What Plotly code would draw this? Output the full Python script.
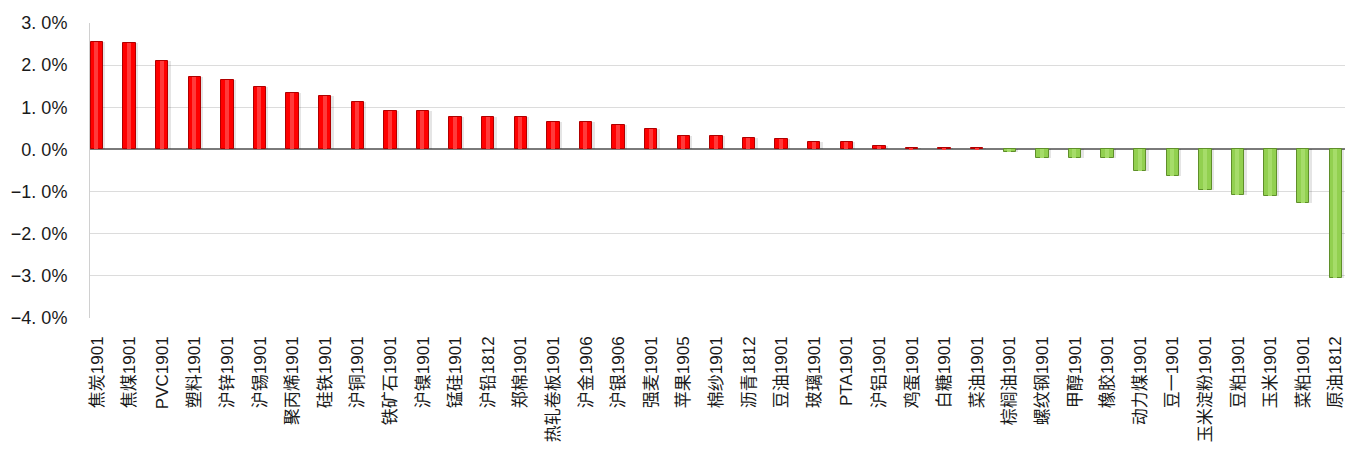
import plotly.graph_objects as go

categories = ["焦炭1901", "焦煤1901", "PVC1901", "塑料1901", "沪锌1901", "沪锡1901", "聚丙烯1901",
              "硅铁1901", "沪铜1901", "铁矿石1901", "沪镍1901", "锰硅1901", "沪铅1812", "郑棉1901",
              "热轧卷板1901", "沪金1906", "沪银1906", "强麦1901", "苹果1905", "棉纱1901", "沥青1812",
              "豆油1901", "玻璃1901", "PTA1901", "沪铝1901", "鸡蛋1901", "白糖1901", "菜油1901",
              "棕榈油1901", "螺纹钢1901", "甲醇1901", "橡胶1901", "动力煤1901", "豆一1901",
              "玉米淀粉1901", "豆粕1901", "玉米1901", "菜粕1901", "原油1812"]
values = [2.54, 2.52, 2.10, 1.72, 1.65, 1.48, 1.33, 1.26, 1.13, 0.92, 0.91, 0.78, 0.78, 0.77,
          0.64, 0.64, 0.59, 0.49, 0.31, 0.31, 0.26, 0.24, 0.18, 0.18, 0.09, 0.04, 0.03, 0.03,
          -0.05, -0.20, -0.20, -0.21, -0.51, -0.63, -0.96, -1.07, -1.11, -1.26, -3.06]
y_ticks = [3, 2, 1, 0, -1, -2, -3, -4]
y_tick_text = ["3. 0%", "2. 0%", "1. 0%", "0. 0%", "−1. 0%", "−2. 0%", "−3. 0%", "−4. 0%"]

x = list(range(len(categories)))
fill = ["#ff0000" if v >= 0 else "#92d050" for v in values]
edge = ["#b00000" if v >= 0 else "#5f8f2a" for v in values]
shine = ["#ff3a3a" if v >= 0 else "#a6dc6a" for v in values]

fig = go.Figure()
# soft shadow behind bars
fig.add_trace(go.Bar(
    x=x, y=values, width=0.46, offset=-0.2,
    marker=dict(color="rgba(0,0,0,0.10)", line=dict(width=0)),
    showlegend=False, hoverinfo="skip",
))
fig.add_trace(go.Bar(
    x=x, y=values, width=0.38, offset=-0.19,
    marker=dict(color=fill, line=dict(color=edge, width=1)),
    showlegend=False,
))
# light centre strip for a rounded look
fig.add_trace(go.Bar(
    x=x, y=values, width=0.12, offset=-0.08,
    marker=dict(color=shine, line=dict(width=0)),
    showlegend=False, hoverinfo="skip",
))

xfont = "Liberation Sans, Noto Sans CJK SC, sans-serif"
# page body has an 8px default margin, so the figure is sized to the visible area
fig.update_layout(
    width=1337, height=450,
    margin=dict(l=82, r=0, t=15, b=140),
    paper_bgcolor="white", plot_bgcolor="white",
    font=dict(family=xfont, size=16, color="#1a1a1a"),
    barmode="overlay",
    xaxis=dict(
        range=[-0.215, 38.28], automargin=False,
        tickmode="array", tickvals=x, ticktext=categories,
        tickangle=-90, ticks="", showgrid=False, zeroline=False,
        showline=False, ticklabelstandoff=14, ticklabeloverflow="allow",
        tickfont=dict(size=17, family=xfont, color="#1a1a1a"),
    ),
    yaxis=dict(
        range=[-4, 3], automargin=False,
        tickmode="array", tickvals=y_ticks, ticktext=y_tick_text,
        showgrid=True, gridcolor="#dcdcdc", gridwidth=1,
        zeroline=True, zerolinecolor="#7a7a7a", zerolinewidth=2,
        showline=True, linecolor="#d0d0d0", linewidth=1,
        ticks="", ticklen=0, ticklabelstandoff=18,
        tickfont=dict(size=18, family=xfont, color="#1a1a1a"),
    ),
    bargap=0,
)

fig.write_html("out.html")
